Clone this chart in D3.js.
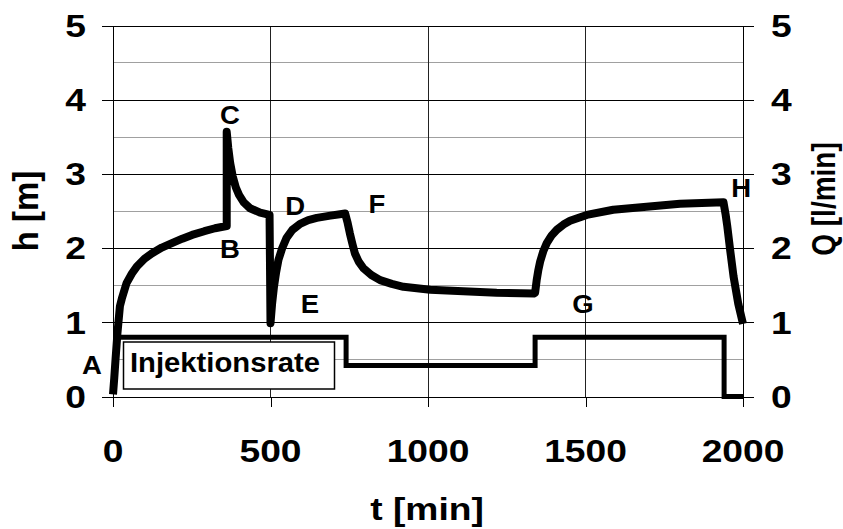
<!DOCTYPE html>
<html><head><meta charset="utf-8">
<script src="https://cdn.jsdelivr.net/npm/d3@7"></script>
<style>body{margin:0;background:#fff}text{font-family:"Liberation Sans",Arial,sans-serif;font-weight:bold;fill:#000}</style>
</head><body><svg id="c" width="843" height="529"></svg>
<script>
// ---- data ----
const hTime  = [0,4,8,14,22,28,43,60,75,100,123,155,187,220,251,290,324,361,
                361,366,372,380,390,400,415,435,467,497,
                500,505,511,518,525,537,551,570,594,620,647,690,737,
                745,752,760,768,780,795,820,848,885,922,1007,1112,1218,1336,
                1340,1345,1350,1356,1366,1377,1392,1409,1430,1451,1504,1588,1694,1800,1938,
                1945,1950,1960,1970,1985,2000];
const hValue = [0.03,0.25,0.5,0.85,1.22,1.32,1.53,1.66,1.75,1.86,1.93,2.01,2.07,2.13,2.18,2.23,2.27,2.30,
                3.57,3.35,3.15,2.97,2.82,2.72,2.62,2.54,2.48,2.45,
                0.99,1.25,1.48,1.68,1.84,2.0,2.14,2.25,2.33,2.38,2.41,2.44,2.47,
                2.34,2.20,2.06,1.93,1.82,1.73,1.64,1.57,1.52,1.48,1.44,1.42,1.40,1.39,
                1.40,1.57,1.70,1.82,1.96,2.07,2.17,2.25,2.32,2.37,2.45,2.52,2.56,2.60,2.62,
                2.45,2.30,1.95,1.62,1.25,0.98];
const qTime  = [0,740,740,1340,1340,1940,1940,2000];
const qValue = [0.8,0.8,0.42,0.42,0.8,0.8,0,0];
const xTicks = [0,500,1000,1500,2000];
const yTicks = [0,1,2,3,4,5];
const halfTicks = [0.5,1.5,2.5,3.5,4.5];
const vGrid = [500,1000,1500];
const pointNames = ["A","B","C","D","E","F","G","H"];
const pointT = [-67,371,371,578,625,838,1492,1994];
const pointH = [0.43,1.99,3.80,2.57,1.25,2.59,1.25,2.81];
const legendText = "Injektionsrate";
const xTitle = "t [min]", yTitle = "h [m]", y2Title = "Q [l/min]";

// ---- layout ----
const L = 113, R = 743, T = 25.8, B = 396.6;
const x = d3.scaleLinear().domain([0,2000]).range([L,R]);
const y = d3.scaleLinear().domain([0,5]).range([B,T]);
const y2 = d3.scaleLinear().domain([0,5]).range([B,T]);
const svg = d3.select("#c");
const SX = 1.2; // horizontal text stretch of the original

// grid
const g = svg.append("g").attr("shape-rendering","crispEdges");
g.selectAll(".hh").data(halfTicks).join("line")
  .attr("x1",L).attr("x2",R).attr("y1",d=>y(d)).attr("y2",d=>y(d))
  .attr("stroke","#a0a0a0").attr("stroke-width",1);
g.selectAll(".hv").data(vGrid).join("line")
  .attr("x1",d=>x(d)).attr("x2",d=>x(d)).attr("y1",T).attr("y2",B)
  .attr("stroke","#222").attr("stroke-width",1);

// axes
const axL = svg.append("g").attr("transform",`translate(${L},0)`)
  .call(d3.axisLeft(y).tickValues(yTicks).tickSize(11).tickFormat(""));
const axLg = svg.append("g").attr("transform",`translate(${L},0)`)
  .call(d3.axisRight(y).tickValues(yTicks).tickSize(R-L).tickFormat(""));
const axR = svg.append("g").attr("transform",`translate(${R},0)`)
  .call(d3.axisRight(y2).tickValues(yTicks).tickSize(11).tickFormat(""));
const axB = svg.append("g").attr("transform",`translate(0,${B})`)
  .call(d3.axisBottom(x).tickValues(xTicks).tickSize(10).tickFormat(""));
[axL,axLg,axR,axB].forEach(a=>{
  a.attr("shape-rendering","crispEdges");
  a.selectAll("line").attr("stroke","#000");
  a.select(".domain").attr("stroke","#000");
});
axLg.select(".domain").remove();
svg.append("line").attr("x1",R).attr("x2",R).attr("y1",T).attr("y2",B+10)
  .attr("stroke","#000").attr("shape-rendering","crispEdges");

// tick labels
function stretchedText(sel, tx, ty, txt, size, anchor, sx, rot){
  return sel.append("text")
    .attr("transform",`translate(${tx},${ty})` + (rot?` rotate(${rot})`:"") + ` scale(${sx},1)`)
    .attr("text-anchor",anchor).attr("font-size",size).text(txt);
}
const fs = 31;
yTicks.forEach(v=>{
  stretchedText(svg, 86, y(v)+fs*0.358, v, fs, "end", SX);
  stretchedText(svg, 771, y2(v)+fs*0.358, v, fs, "start", SX);
});
xTicks.forEach(v=>{
  stretchedText(svg, x(v), 462, v, fs, "middle", SX);
});

// titles
stretchedText(svg, 427, 520, xTitle, 31, "middle", SX);
svg.append("text").attr("transform",`translate(38,211) rotate(-90) scale(1,1.08)`)
  .attr("text-anchor","middle").attr("font-size",33).text(yTitle);
svg.append("text").attr("transform",`translate(835,199) rotate(-90) scale(1,${SX})`)
  .attr("text-anchor","middle").attr("font-size",28).text(y2Title);

// legend box
svg.append("rect").attr("x",123.5).attr("y",342).attr("width",211).attr("height",47)
  .attr("fill","#fff").attr("stroke","#000").attr("stroke-width",1.5);
svg.append("text").attr("x",130).attr("y",371.7).attr("font-size",28)
  .attr("textLength",190).attr("lengthAdjust","spacingAndGlyphs").text(legendText);

// lines
const qData = qTime.map((t,i)=>[t,qValue[i]]);
const hData = hTime.map((t,i)=>[t,hValue[i]]);
svg.append("path").datum(qData)
  .attr("d", d3.line().x(d=>x(d[0])).y(d=>y2(d[1])))
  .attr("fill","none").attr("stroke","#000").attr("stroke-width",5)
  .attr("stroke-linejoin","miter");
svg.append("path").datum(hData)
  .attr("d", d3.line().x(d=>x(d[0])).y(d=>y(d[1])))
  .attr("fill","none").attr("stroke","#000").attr("stroke-width",8)
  .attr("stroke-linejoin","round").attr("stroke-linecap","butt");

// point labels
pointNames.forEach((n,i)=>{
  stretchedText(svg, x(pointT[i]), y(pointH[i])+25*0.358, n, 25, "middle", 1.1);
});
</script></body></html>
